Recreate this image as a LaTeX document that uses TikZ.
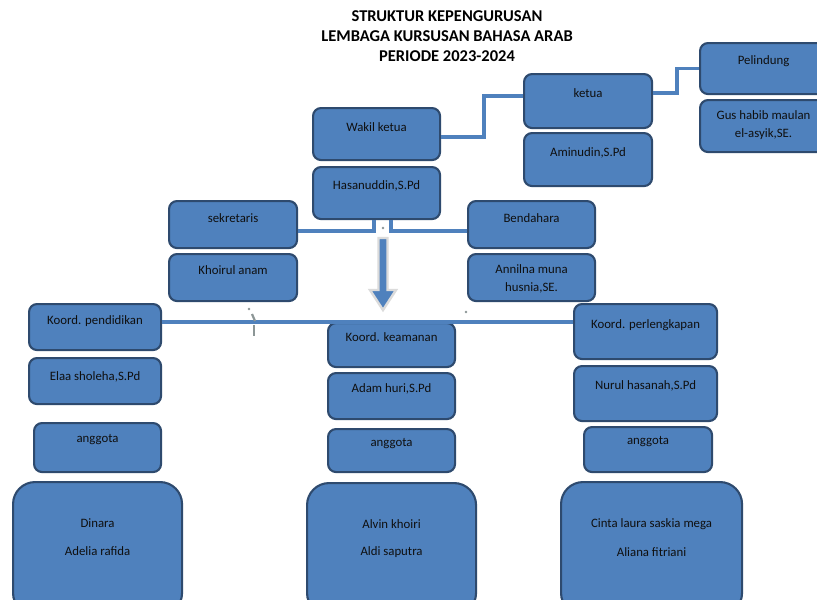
\documentclass[tikz,border=0pt]{standalone}
\usepackage{fontspec}
\setmainfont{Carlito}
\usetikzlibrary{calc}
\definecolor{boxfill}{RGB}{79,129,189}
\definecolor{boxdraw}{RGB}{46,74,110}
\definecolor{linec}{RGB}{79,129,189}
\definecolor{txtc}{RGB}{15,15,15}
\definecolor{artc}{RGB}{140,150,150}
\tikzset{
  box/.style={draw=boxdraw, fill=boxfill, line width=2.1pt, rounded corners=8pt, anchor=north west, inner sep=0pt},
  bigbox/.style={box, rounded corners=22pt},
  lbl/.style={text=txtc, font=\fontsize{12.8}{18}\selectfont, inner sep=0pt, align=center},
  conn/.style={draw=linec, line width=3.3pt},
  arrowshape/.style={fill=boxfill, draw=white!72!gray, line width=2.4pt, line join=miter},
}
\newcommand\bx[6][box]{\node[#1, minimum width={(#5-#3)*1pt}, minimum height={(#6-#4)*1pt}] (#2) at (#3,#4) {};}
\begin{document}
\begin{tikzpicture}[x=1pt, y=-1pt]
\useasboundingbox (0,0) rectangle (817,600);
\clip (0,0) rectangle (817,600);
\fill[white] (0,0) rectangle (817,600);

% title
\node[font=\bfseries\fontsize{16.5}{20}\selectfont, align=center, text=black, inner sep=0pt] (title) at (447,36)
  {STRUKTUR KEPENGURUSAN\\LEMBAGA KURSUSAN BAHASA ARAB\\PERIODE 2023-2024};

% connectors
\path (0,0) coordinate (origin);

% boxes
\bx{pel}{699}{42}{826}{93}
\bx{gus}{699}{99}{826}{151}
\bx{ketua}{523}{73}{651}{127}
\bx{amin}{523}{132}{651}{185}
\bx{wakil}{312}{107}{439}{159}
\bx{hasan}{312}{166}{439}{218}
\bx{sek}{168}{200}{296}{247}
\bx{khoi}{168}{253}{296}{300}
\bx{bend}{467}{200}{594}{247}
\bx{anni}{467}{253}{594}{300}
\bx{kpend}{28}{303}{160}{349}
\bx{elaa}{28}{357}{160}{403}
\bx{angA}{33}{422}{160}{471}
\bx[bigbox]{memA}{12}{481}{181}{614}
\bx{kkeam}{327}{322}{454}{366}
\bx{adam}{327}{372}{454}{418}
\bx{angB}{327}{428}{454}{471}
\bx[bigbox]{memB}{306}{482}{475}{614}
\bx{kperl}{573}{303}{716}{358}
\bx{nurul}{573}{365}{716}{420}
\bx{angC}{583}{426}{711}{471}
\bx[bigbox]{memC}{560}{481}{741}{614}

% connectors
\draw[conn] (wakil.east) ++(0,3) -- ++(43,0) |- ([yshift=5pt]ketua.west);
\draw[conn] ([yshift=8pt]ketua.east) -- ++(24,0) |- (pel.west);
\draw[conn] ([xshift=-2.5pt]hasan.south) |- ([yshift=-6.5pt]sek.east);
\draw[conn] ([xshift=14.5pt]hasan.south) |- ([yshift=-6.5pt]bend.west);
\draw[conn] ([yshift=5pt]kpend.east) -- ([yshift=9.5pt]kperl.west);

% big down arrow
\draw[arrowshape] (378.5,238) -- (387.5,238) -- (387.5,290) -- (396,290) -- (383,310) -- (370,290) -- (378.5,290) -- cycle;

% small grey marks
\fill[artc] (383,228) circle (1.3);
\fill[artc] (466,312) circle (1.3);
\fill[artc] (249,309) circle (1.3);
\draw[artc, line width=2.2pt] (252,314) -- (255,321);
\draw[artc, line width=2.8pt] (254,325) -- (254,336);

% labels
\node[lbl] (tpel) at ([yshift=-19pt]pel.north) {Pelindung};
\node[lbl] (tgus) at ([yshift=-26pt]gus.north) {Gus habib maulan\\el-asyik,SE.};
\node[lbl] (tketua) at ([yshift=-20pt]ketua.north) {ketua};
\node[lbl] (tamin) at ([yshift=-21pt]amin.north) {Aminudin,S.Pd};
\node[lbl] (twakil) at ([yshift=-20pt]wakil.north) {Wakil ketua};
\node[lbl] (thasan) at ([yshift=-20pt]hasan.north) {Hasanuddin,S.Pd};
\node[lbl] (tsek) at ([yshift=-18pt]sek.north) {sekretaris};
\node[lbl] (tkhoi) at ([yshift=-17pt]khoi.north) {Khoirul anam};
\node[lbl] (tbend) at ([yshift=-18pt]bend.north) {Bendahara};
\node[lbl] (tanni) at ([yshift=-26pt]anni.north) {Annilna muna\\husnia,SE.};
\node[lbl] (tkpend) at ([yshift=-18pt]kpend.north) {Koord. pendidikan};
\node[lbl] (telaa) at ([yshift=-20pt]elaa.north) {Elaa sholeha,S.Pd};
\node[lbl] (tangA) at ([yshift=-18pt]angA.north) {anggota};
\node[lbl] (tmemA1) at ([yshift=-42pt]memA.north) {Dinara};
\node[lbl] (tmemA2) at ([yshift=-70pt]memA.north) {Adelia rafida};
\node[lbl] (tkkeam) at ([yshift=-15pt]kkeam.north) {Koord. keamanan};
\node[lbl] (tadam) at ([yshift=-17pt]adam.north) {Adam huri,S.Pd};
\node[lbl] (tangB) at ([yshift=-16pt]angB.north) {anggota};
\node[lbl] (tmemB1) at ([yshift=-42pt]memB.north) {Alvin khoiri};
\node[lbl] (tmemB2) at ([yshift=-70pt]memB.north) {Aldi saputra};
\node[lbl] (tkperl) at ([yshift=-22pt]kperl.north) {Koord. perlengkapan};
\node[lbl] (tnurul) at ([yshift=-21pt]nurul.north) {Nurul hasanah,S.Pd};
\node[lbl] (tangC) at ([yshift=-16pt]angC.north) {anggota};
\node[lbl] (tmemC1) at ([yshift=-43pt]memC.north) {Cinta laura saskia mega};
\node[lbl] (tmemC2) at ([yshift=-71pt]memC.north) {Aliana fitriani};
\end{tikzpicture}
\end{document}
